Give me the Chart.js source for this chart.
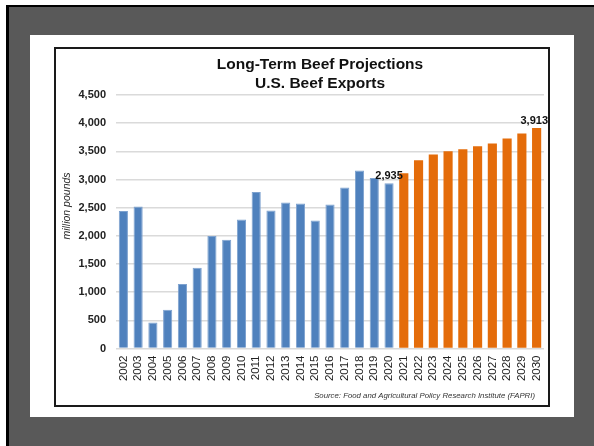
<!DOCTYPE html>
<html lang="en">
<head>
  <meta charset="UTF-8" />
  <title>Long-Term Beef Projections</title>
  <style>
    body {
      margin: 0;
      width: 594px;
      height: 446px;
      overflow: hidden;
      background: #fff;
      font-family: "Liberation Sans", Arial, sans-serif;
    }
    #frame {
      position: absolute;
      left: 6px;
      top: 5px;
      right: 0;
      bottom: 0;
      background: #595959;
      border-left: 3px solid #000;
      border-top: 2px solid #000;
    }
    #panel {
      position: absolute;
      left: 30px;
      top: 35px;
      width: 544px;
      height: 382px;
      background: #fff;
    }
    #box {
      position: absolute;
      left: 54px;
      top: 47px;
      width: 492px;
      height: 356px;
      border: 2px solid #1a1a1a;
      background: #fff;
    }
    canvas { display: block; }
  </style>
</head>
<body>
  <div id="frame"></div>
  <div id="panel"></div>
  <div id="box"><canvas id="beefChart" width="492" height="356"></canvas></div>

  <script src="https://cdn.jsdelivr.net/npm/chart.js@4"></script>
  <script>
    const YEARS = ['2002', '2003', '2004', '2005', '2006', '2007', '2008', '2009', '2010',
      '2011', '2012', '2013', '2014', '2015', '2016', '2017', '2018', '2019', '2020',
      '2021', '2022', '2023', '2024', '2025', '2026', '2027', '2028', '2029', '2030'];
    // million pounds, 2002-2020
    const HISTORICAL = [2440, 2520, 460, 690, 1145, 1435, 1995, 1930, 2290, 2780,
      2450, 2590, 2575, 2270, 2555, 2860, 3160, 3025, 2935];
    // projections, 2021-2030
    const PROJECTED = [3110, 3340, 3445, 3500, 3535, 3590, 3640, 3730, 3815, 3913];
    const LABELED_YEARS = ['2020', '2030'];

    const Y_MAX = 4500;
    const Y_STEP = 500;

    const TITLE_LINES = ['Long-Term Beef Projections', 'U.S. Beef Exports'];
    const Y_TITLE = 'million pounds';
    const SOURCE = 'Source: Food and Agricultural Policy Research Institute (FAPRI)';

    const FONT = '"Liberation Sans", Arial, sans-serif';
    Chart.defaults.font.family = FONT;

    const histData = YEARS.map((y, i) => i < HISTORICAL.length ? HISTORICAL[i] : null);
    const projData = YEARS.map((y, i) => i >= HISTORICAL.length ? PROJECTED[i - HISTORICAL.length] : null);

    const annotations = {
      id: 'annotations',
      afterDraw(chart) {
        const { ctx, chartArea: area } = chart;
        ctx.save();
        ctx.fillStyle = '#111';

        // title
        ctx.textAlign = 'center';
        ctx.textBaseline = 'alphabetic';
        ctx.font = 'bold 15.5px ' + FONT;
        const cx = chart.width / 2 + 18;
        TITLE_LINES.forEach((line, i) => ctx.fillText(line, cx, 20 + i * 18.5));

        // y axis title
        ctx.save();
        ctx.translate(11, 157);
        ctx.rotate(-Math.PI / 2);
        ctx.font = 'italic 10.5px ' + FONT;
        ctx.textBaseline = 'middle';
        ctx.fillStyle = '#222';
        ctx.fillText(Y_TITLE, 0, 0);
        ctx.restore();

        // source note
        ctx.font = 'italic 7.8px ' + FONT;
        ctx.textAlign = 'right';
        ctx.fillStyle = '#333';
        ctx.fillText(SOURCE, area.right - 9, chart.height - 7);

        // value labels
        ctx.font = 'bold 11px ' + FONT;
        ctx.textAlign = 'center';
        ctx.fillStyle = '#111';
        LABELED_YEARS.forEach(year => {
          const idx = YEARS.indexOf(year);
          chart.data.datasets.forEach((ds, di) => {
            const v = ds.data[idx];
            if (v == null) return;
            const bar = chart.getDatasetMeta(di).data[idx];
            const text = v.toLocaleString('en-US');
            const w = ctx.measureText(text).width;
            const x = Math.min(bar.x, area.right + 4 - w / 2);
            ctx.fillText(text, x, bar.y - 4);
          });
        });
        ctx.restore();
      }
    };

    new Chart(document.getElementById('beefChart'), {
      type: 'bar',
      data: {
        labels: YEARS,
        datasets: [
          {
            label: 'Historical',
            data: histData,
            backgroundColor: '#4f81bd',
            borderColor: '#7ea2cf',
            borderWidth: 1,
            grouped: false,
            barPercentage: 0.62,
            categoryPercentage: 1
          },
          {
            label: 'Projected',
            data: projData,
            backgroundColor: '#e46c0a',
            borderWidth: 0,
            grouped: false,
            barPercentage: 0.62,
            categoryPercentage: 1
          }
        ]
      },
      options: {
        responsive: false,
        animation: false,
        layout: { padding: { top: 46, right: 4, left: 0, bottom: 0 } },
        plugins: {
          legend: { display: false },
          tooltip: { enabled: false },
          title: { display: false }
        },
        scales: {
          x: {
            grid: { display: false, drawTicks: false },
            border: { display: false },
            ticks: {
              autoSkip: false,
              minRotation: 90,
              maxRotation: 90,
              padding: 7,
              color: '#222',
              font: { size: 11.5 }
            },
            afterFit: s => { s.height = 56.5; s.paddingLeft = 0; s.paddingRight = 0; }
          },
          y: {
            min: 0,
            max: Y_MAX,
            ticks: {
              stepSize: Y_STEP,
              padding: 10,
              color: '#222',
              font: { size: 11, weight: 'bold' }
            },
            grid: { color: '#dadada', lineWidth: 1.5, drawTicks: false },
            border: { display: false },
            afterFit: s => { s.width = 60; }
          }
        }
      },
      plugins: [annotations]
    });
  </script>
</body>
</html>
